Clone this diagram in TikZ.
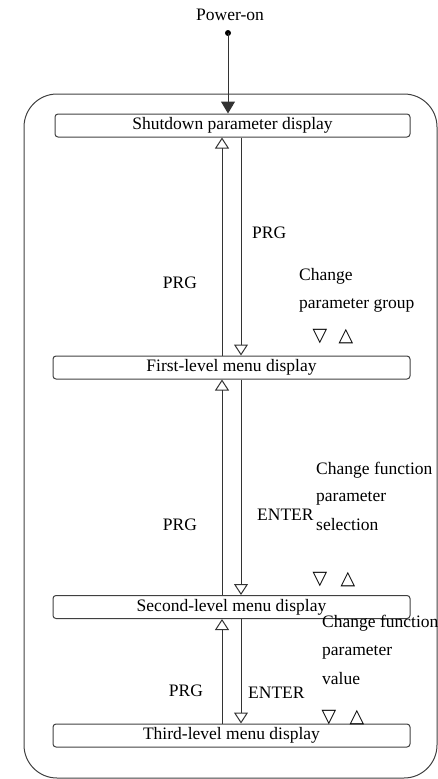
\documentclass[tikz,border=0pt]{standalone}
\usepackage{fontspec}
\setmainfont{Liberation Serif}
\newfontfamily\symfont{DejaVu Sans}
\usetikzlibrary{arrows.meta}

\tikzset{
  every node/.append style={font=\fontsize{17.5}{21}\selectfont},
  menubox/.style={draw=black!75, line width=1pt, rounded corners=3pt,
    minimum height=23pt, inner sep=0pt},
  flow/.style={draw=black!80, line width=1pt,
    -{Triangle[open, length=11pt, width=14pt]}},
  lbl/.style={inner sep=0pt, anchor=west},
  tri/.style={inner sep=0pt, font=\symfont\fontsize{19}{19}\selectfont},
}

\begin{document}
\begin{tikzpicture}[x=1pt, y=-1pt]
  \useasboundingbox (0,0) rectangle (438,779);
  % outer frame
  \draw[black!75, line width=1pt, rounded corners=33pt] (24,94) rectangle (437,778);

  \node (power) at (230,15) {Power-on};
  \fill[black] (228,33) circle (3pt) coordinate (dot);

  \node[menubox, minimum width=355pt] (shut) at (232.5,125.5) {Shutdown parameter display};
  \node[menubox, minimum width=357pt] (first) at (231.5,367.5) {First-level menu display};
  \node[menubox, minimum width=357pt] (second) at (231.5,607) {Second-level menu display};
  \node[menubox, minimum width=357pt] (third) at (231.5,735.5) {Third-level menu display};

  \coordinate (lx) at (222,0);
  \coordinate (rx) at (241,0);

  \draw[draw=black!80, line width=1pt, -{Triangle[length=12pt, width=14pt]}]
    (dot) -- (shut.north -| dot);

  \draw[flow] (first.north -| lx) -- (shut.south -| lx);
  \draw[flow] (shut.south -| rx) -- (first.north -| rx);
  \draw[flow] (second.north -| lx) -- (first.south -| lx);
  \draw[flow] (first.south -| rx) -- (second.north -| rx);
  \draw[flow] (third.north -| lx) -- (second.south -| lx);
  \draw[flow] (second.south -| rx) -- (third.north -| rx);

  % labels
  \node (prg1) at (180,283) {PRG};
  \node[lbl] (prg2) at (252,233) {PRG};
  \node[lbl] (chg1) at (299,276) {Change};
  \node[lbl] (chg1b) at (299,305) {parameter group};
  \node[tri] (dn1) at (320,337) {▽};
  \node[tri] (up1) at (346,337) {△};

  \node (prg3) at (180,525) {PRG};
  \node[lbl] (ent1) at (257,515) {ENTER};
  \node[lbl] (chg2) at (316,470) {Change function};
  \node[lbl] (chg2b) at (316,498) {parameter};
  \node[lbl] (chg2c) at (316,525) {selection};
  \node[tri] (dn2) at (320,580) {▽};
  \node[tri] (up2) at (348,580) {△};

  \node (prg4) at (186,691) {PRG};
  \node[lbl] (ent2) at (248,693) {ENTER};
  \node[lbl] (chg3) at (322,623) {Change function};
  \node[lbl] (chg3b) at (322,652) {parameter};
  \node[lbl] (chg3c) at (322,679) {value};
  \node[tri] (dn3) at (329,718) {▽};
  \node[tri] (up3) at (357,718) {△};
\end{tikzpicture}
\end{document}
